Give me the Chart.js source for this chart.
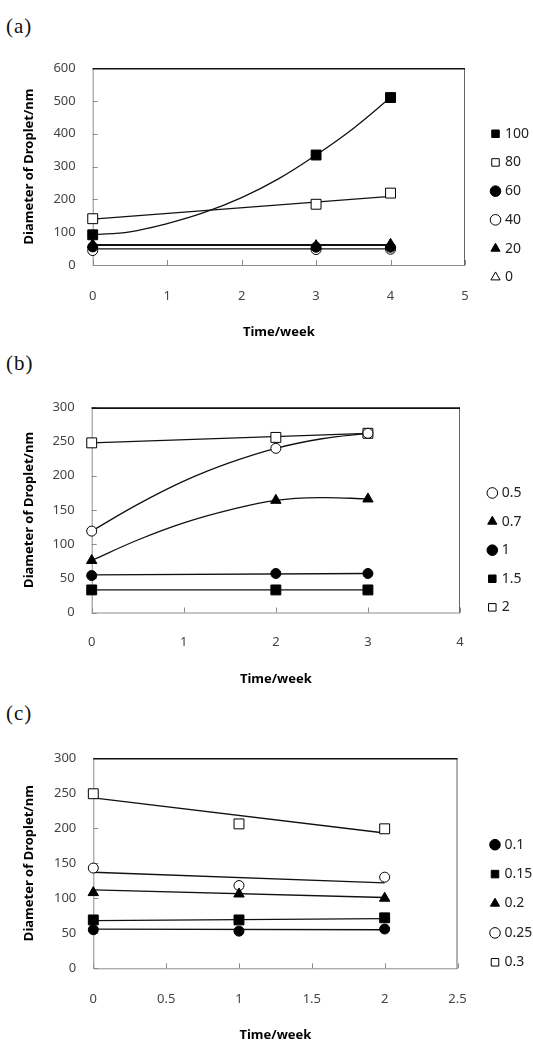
<!DOCTYPE html>
<html><head><meta charset="utf-8">
<script src="https://cdn.jsdelivr.net/npm/chart.js@4.4.1/dist/chart.umd.min.js"></script>
<style>
html,body{margin:0;padding:0;background:#fff;overflow:hidden;width:533px;height:1043px;}
.lbl{position:absolute;left:6px;font-family:"Liberation Serif","DejaVu Serif",serif;font-size:21px;line-height:1;letter-spacing:1px;color:#111;}
.box{position:absolute;left:0;width:533px;}
canvas{display:block;}
</style></head><body>
<div class="lbl" style="top:16px">(a)</div>
<div class="box" style="top:40px;height:300px"><canvas id="ca"></canvas></div>
<div class="lbl" style="top:353px">(b)</div>
<div class="box" style="top:380px;height:307px"><canvas id="cb"></canvas></div>
<div class="lbl" style="top:703px">(c)</div>
<div class="box" style="top:730px;height:313px"><canvas id="cc"></canvas></div>
<script>
// ---------- (a) ----------
const weeksA = [0, 3, 4];
const a100 = [92, 335, 510];
const a80 = [141, 185, 219];
const a60 = [55, 54, 54];
const a40 = [44, 47, 48];
const a20 = [62, 59, 63];
const a0 = [];
const trendXA100 = [0, 0.5, 1, 1.5, 2, 2.5, 3, 3.5, 4];
const trendA100 = [92, 101, 126, 160, 205, 263, 335, 416, 510];
const trendXA = [0, 4];
const trendA80 = [140, 209];
const trendA60 = [60, 60];
const trendA40 = [49, 49];
const trendA20 = [62, 62];
const labelsA = ['100', '80', '60', '40', '20', '0'];

// ---------- (b) ----------
const weeksB = [0, 2, 3];
const b05 = [119, 240, 262];
const b07 = [76, 164, 166];
const b1 = [54, 57, 57];
const b15 = [33, 33, 33];
const b2 = [248, 256, 262];
const trendXBc = [0, 0.5, 1, 1.5, 2, 2.5, 3];
const trendB05 = [119, 158, 192, 219, 240, 254, 262];
const trendB07 = [76, 106, 131, 150, 164, 168, 166];
const trendXB = [0, 3];
const trendB1 = [55, 57];
const trendB15 = [33, 33];
const trendB2 = [248, 262];
const labelsB = ['0.5', '0.7', '1', '1.5', '2'];

// ---------- (c) ----------
const weeksC = [0, 1, 2];
const c01 = [55, 53, 56];
const c015 = [69, 69, 72];
const c02 = [108, 106, 100];
const c025 = [143, 118, 130];
const c03 = [249, 206, 199];
const trendXC = [0, 2];
const trendC01 = [56, 55];
const trendC015 = [68, 71];
const trendC02 = [112, 101];
const trendC025 = [137, 122];
const trendC03 = [243, 193];
const labelsC = ['0.1', '0.15', '0.2', '0.25', '0.3'];

const FONT = '"Noto Sans","DejaVu Sans",sans-serif';
Chart.defaults.font.family = FONT;
Chart.defaults.color = '#333';

const MARK = {
  fsq: {pointStyle: 'rect', r: 7, fill: '#000'},
  osq: {pointStyle: 'rect', r: 7, fill: '#fff'},
  fci: {pointStyle: 'circle', r: 5, fill: '#000'},
  oci: {pointStyle: 'circle', r: 5, fill: '#fff'},
  ftr: {pointStyle: 'triangle', r: 6, fill: '#000'},
  otr: {pointStyle: 'triangle', r: 6, fill: '#fff'}
};

function pts(xs, ys) { return ys.map((y, i) => ({x: xs[i], y: y})); }

function pointSet(label, xs, ys, m) {
  const mk = MARK[m];
  return {
    label: label, data: pts(xs, ys), showLine: false, order: 1, clip: false,
    pointStyle: mk.pointStyle, pointRadius: mk.r, pointHoverRadius: mk.r,
    pointBackgroundColor: mk.fill, backgroundColor: mk.fill,
    pointBorderColor: '#000', borderColor: '#000', pointBorderWidth: 1, borderWidth: 1
  };
}
function trendSet(xs, ys, curved) {
  return {
    label: '', data: pts(xs, ys), showLine: true, order: 2,
    pointRadius: 0, pointHoverRadius: 0, borderColor: '#111', borderWidth: 1.3,
    tension: curved ? 0.4 : 0, fill: false
  };
}

const frameTicks = {
  id: 'frameTicks',
  beforeDatasetsDraw(chart) {
    const {ctx, chartArea: a} = chart;
    const x = chart.scales.x, y = chart.scales.y;
    ctx.save();
    ctx.lineWidth = 1;
    ctx.strokeStyle = '#8c8c8c';
    ctx.beginPath();
    x.ticks.forEach(t => { const px = Math.round(x.getPixelForValue(t.value)) + 0.5; ctx.moveTo(px, a.bottom); ctx.lineTo(px, a.bottom - 5); });
    y.ticks.forEach(t => { const py = Math.round(y.getPixelForValue(t.value)) + 0.5; ctx.moveTo(a.left, py); ctx.lineTo(a.left + 5, py); });
    ctx.stroke();
    ctx.beginPath();
    ctx.moveTo(a.left + 0.5, a.top); ctx.lineTo(a.left + 0.5, a.bottom + 0.5); ctx.lineTo(a.right, a.bottom + 0.5);
    ctx.stroke();
    ctx.strokeStyle = '#666';
    ctx.beginPath(); ctx.moveTo(a.right - 0.5, a.top); ctx.lineTo(a.right - 0.5, a.bottom + 0.5); ctx.stroke();
    ctx.strokeStyle = '#111'; ctx.lineWidth = 1.6;
    ctx.beginPath(); ctx.moveTo(a.left, a.top + 0.8); ctx.lineTo(a.right, a.top + 0.8); ctx.stroke();
    ctx.restore();
  }
};

// fixes the legend box width so the plot frame and the legend column sit where the reference has them
const legendWidth = {
  id: 'legendWidth',
  beforeUpdate(chart, args, opts) {
    const lg = chart.legend;
    if (lg && !lg._wFixed) {
      const orig = lg.fit.bind(lg);
      lg.fit = function () { orig(); this.width = opts.width; };
      lg._wFixed = true;
    }
  }
};

function makeChart(id, datasets, L) {
  return new Chart(document.getElementById(id), {
    type: 'scatter',
    data: {datasets: datasets},
    plugins: [frameTicks, legendWidth],
    options: {
      responsive: true, maintainAspectRatio: false, animation: false, events: [],
      layout: {padding: {top: L.pt, right: 0, bottom: 0, left: 0}},
      plugins: {
        tooltip: {enabled: false},
        legendWidth: {width: L.legendW},
        legend: {
          position: 'right', align: 'center',
          title: {display: true, text: '', font: {size: 1, lineHeight: 1}, padding: {top: L.legendShift, bottom: 0}},
          labels: {
            usePointStyle: true, boxWidth: 5, boxHeight: 7.5, padding: L.legendPad,
            color: '#222', font: {size: 14},
            filter: it => it.text !== ''
          }
        }
      },
      scales: {
        x: {
          type: 'linear', position: 'bottom', min: 0, max: L.xMax,
          grid: {display: false, drawTicks: false}, border: {display: false},
          ticks: {stepSize: L.xStep, padding: L.xPad, color: '#444', font: {size: 13}, maxRotation: 0, callback: v => String(v)},
          title: {display: true, text: 'Time/week', color: '#000', font: {size: 13, weight: 'bold'}, padding: {top: 0, bottom: 0}},
          afterFit: s => { s.height = L.xH; }
        },
        y: {
          type: 'linear', position: 'left', min: 0, max: L.yMax,
          grid: {display: false, drawTicks: false}, border: {display: false},
          ticks: {stepSize: L.yStep, padding: 17, color: '#444', font: {size: 13}, callback: v => String(v)},
          title: {display: true, text: 'Diameter of Droplet/nm', color: '#000', font: {size: 13, weight: 'bold'}, padding: {top: 21, bottom: 0}},
          afterFit: s => { s.width = L.yW; }
        },
        y2: {
          type: 'linear', position: 'right', display: true,
          grid: {display: false, drawTicks: false}, border: {display: false},
          ticks: {display: false},
          afterFit: s => { s.width = L.y2W; }
        }
      }
    }
  });
}

makeChart('ca', [
  pointSet(labelsA[0], weeksA, a100, 'fsq'),
  pointSet(labelsA[1], weeksA, a80, 'osq'),
  pointSet(labelsA[2], weeksA, a60, 'fci'),
  pointSet(labelsA[3], weeksA, a40, 'oci'),
  pointSet(labelsA[4], weeksA, a20, 'ftr'),
  pointSet(labelsA[5], weeksA, a0, 'otr'),
  trendSet(trendXA100, trendA100, true),
  trendSet(trendXA, trendA80, false),
  trendSet(trendXA, trendA60, false),
  trendSet(trendXA, trendA40, false),
  trendSet(trendXA, trendA20, false)
], {pt: 28, xMax: 5, xStep: 1, yMax: 600, yStep: 100, yW: 92.7, y2W: 13.3, legendW: 54.7, legendPad: 14.7, legendShift: 2, xPad: 23.2, xH: 75});

makeChart('cb', [
  pointSet(labelsB[0], weeksB, b05, 'oci'),
  pointSet(labelsB[1], weeksB, b07, 'ftr'),
  pointSet(labelsB[2], weeksB, b1, 'fci'),
  pointSet(labelsB[3], weeksB, b15, 'fsq'),
  pointSet(labelsB[4], weeksB, b2, 'osq'),
  trendSet(trendXBc, trendB05, true),
  trendSet(trendXBc, trendB07, true),
  trendSet(trendXB, trendB1, false),
  trendSet(trendXB, trendB15, false),
  trendSet(trendXB, trendB2, false)
], {pt: 27.3, xMax: 4, xStep: 1, yMax: 300, yStep: 50, yW: 91.7, y2W: 15.2, legendW: 57.8, legendPad: 14.6, legendShift: 5, xPad: 22.2, xH: 74.5});

makeChart('cc', [
  pointSet(labelsC[0], weeksC, c01, 'fci'),
  pointSet(labelsC[1], weeksC, c015, 'fsq'),
  pointSet(labelsC[2], weeksC, c02, 'ftr'),
  pointSet(labelsC[3], weeksC, c025, 'oci'),
  pointSet(labelsC[4], weeksC, c03, 'osq'),
  trendSet(trendXC, trendC01, false),
  trendSet(trendXC, trendC015, false),
  trendSet(trendXC, trendC02, false),
  trendSet(trendXC, trendC025, false),
  trendSet(trendXC, trendC03, false)
], {pt: 28, xMax: 2.5, xStep: 0.5, yMax: 300, yStep: 50, yW: 93.3, y2W: 19.6, legendW: 55.9, legendPad: 15.4, legendShift: 5, xPad: 23.2, xH: 74.7});
</script>
</body></html>
